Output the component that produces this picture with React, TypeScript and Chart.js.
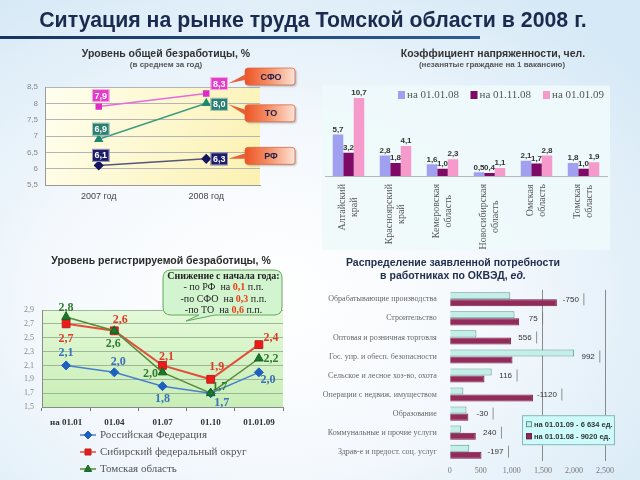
import React, { useEffect, useRef } from "react";
import { Chart, registerables } from "chart.js";

Chart.register(...registerables);

const SANS = "'Liberation Sans', Arial, sans-serif";
const SERIF = "'Liberation Serif', 'Times New Roman', serif";

// ---------- Chart 1: общая безработица ----------
const avgYears = ["2007 год", "2008 год"];
const avgYTicks = [5.5, 6, 6.5, 7, 7.5, 8, 8.5];
const avgSeries = ["СФО", "ТО", "РФ"];
const avgSFO = [7.9, 8.3];
const avgTO = [6.9, 8.0];
const avgRF = [6.1, 6.3];

// ---------- Chart 2: коэффициент напряженности ----------
const tensionRegions = [
  ["Алтайский", "край"],
  ["Красноярский", "край"],
  ["Кемеровская", "область"],
  ["Новосибирская", "область"],
  ["Омская", "область"],
  ["Томская", "область"],
];
const tensionDates = ["на 01.01.08", "на 01.11.08", "на 01.01.09"];
const tension0801 = [5.7, 2.8, 1.6, 0.5, 2.1, 1.8];
const tension0811 = [3.2, 1.8, 1.0, 0.4, 1.7, 1.0];
const tension0901 = [10.7, 4.1, 2.3, 1.1, 2.8, 1.9];

// ---------- Chart 3: регистрируемая безработица ----------
const regDates = ["на 01.01", "01.04", "01.07", "01.10", "01.01.09"];
const regYTicks = [1.5, 1.7, 1.9, 2.1, 2.3, 2.5, 2.7, 2.9];
const regSeries = ["Российская Федерация", "Сибирский федеральный округ", "Томская область"];
const regShort = ["РФ", "СФО", "ТО"];
const regRF = [2.1, 2.0, 1.8, 1.7, 2.0];
const regSFO = [2.7, 2.6, 2.1, 1.9, 2.4];
const regTO = [2.8, 2.6, 2.0, 1.7, 2.2];

// ---------- Chart 4: потребность по ОКВЭД ----------
const okvedSectors = [
  "Обрабатывающие производства",
  "Строительство",
  "Оптовая и розничная торговля",
  "Гос. упр. и обесп. безопасности",
  "Сельское и лесное хоз-во, охота",
  "Операции с недвиж. имуществом",
  "Образование",
  "Коммунальные и прочие услуги",
  "Здрав-е и предост. соц. услуг",
];
const okvedSeries = ["на 01.01.09 - 6 634 ед.", "на 01.01.08 - 9020 ед."];
const okved09 = [975, 1043, 430, 2003, 676, 220, 270, 180, 315];
const okved08 = [1725, 1118, 986, 1011, 560, 1340, 300, 420, 512];
const okvedDiff = ["-750", "75", "556", "992", "116", "-1120", "-30", "240", "-197"];
const okvedXTicks = [0, 500, 1000, 1500, 2000, 2500];

const fmt = (v: number) => String(v).replace(".", ",");
const fmt1 = (v: number) => v.toFixed(1).replace(".", ",");

// ---------- styles ----------
const avgStyle = {
  line: ["#e86ade", "#3f9c82", "#55557a"],
  point: ["#e02cc6", "#1e8a6c", "#15155e"],
  box: ["#e43cc8", "#2a7f70", "#1c1c6a"],
  shape: ["rect", "triangle", "rectRot"],
  offsets: [
    [[2, -11], [13, -10]],
    [[2, -10], [13, 1]],
    [[2, -10], [13, 0]],
  ],
  calloutDy: [-17, 10, -3],
};

const tensionColors = ["#a0a0f0", "#7e0a66", "#f59acb"];

const regStyle = {
  line: ["#4a7fd0", "#e0503a", "#5a8a3a"],
  point: ["#1f5fc0", "#ee1a1a", "#1a7a2a"],
  pointBorder: ["#1f5fc0", "#b82020", "#145e20"],
  label: ["#3a70b8", "#e03a2a", "#2e7d32"],
  shape: ["rectRot", "rect", "triangle"],
  radius: [4.5, 5.5, 5],
  offsets: [
    [[0, -13], [4, -10], [0, 13], [11, 10], [9, 8]],
    [[0, 15], [6, -11], [4, -9], [6, -12], [12, -7]],
    [[0, -9], [-1, 13], [-12, 2], [9, -6], [12, 0]],
  ],
};

function drawMarker(ctx: CanvasRenderingContext2D, shape: string, x: number, y: number, r: number, fill: string, stroke: string) {
  ctx.save();
  ctx.fillStyle = fill;
  ctx.strokeStyle = stroke;
  ctx.lineWidth = 1;
  ctx.beginPath();
  if (shape === "rect") {
    ctx.rect(x - r * 0.75, y - r * 0.75, r * 1.5, r * 1.5);
  } else if (shape === "triangle") {
    ctx.moveTo(x, y - r);
    ctx.lineTo(x + r * 0.9, y + r * 0.6);
    ctx.lineTo(x - r * 0.9, y + r * 0.6);
    ctx.closePath();
  } else {
    ctx.moveTo(x, y - r);
    ctx.lineTo(x + r, y);
    ctx.lineTo(x, y + r);
    ctx.lineTo(x - r, y);
    ctx.closePath();
  }
  ctx.fill();
  ctx.stroke();
  ctx.restore();
}

function makeAvg(canvas: HTMLCanvasElement) {
  const data = [avgSFO, avgTO, avgRF];
  return new Chart(canvas, {
    type: "line",
    data: {
      labels: avgYears,
      datasets: data.map((d, i) => ({
        label: avgSeries[i],
        data: d,
        borderColor: avgStyle.line[i],
        borderWidth: 1.5,
        pointStyle: avgStyle.shape[i] as any,
        pointRadius: i === 0 ? 3.5 : 4,
        pointBackgroundColor: avgStyle.point[i],
        pointBorderColor: avgStyle.point[i],
      })),
    },
    options: {
      responsive: false,
      animation: false,
      layout: { padding: { left: 0, right: 60, top: 47, bottom: 0 } },
      plugins: { legend: { display: false }, tooltip: { enabled: false } },
      scales: {
        x: {
          offset: true,
          grid: { display: false, drawTicks: false },
          border: { display: true, color: "#9a9a9a" },
          ticks: { font: { family: SANS, size: 9 }, color: "#444", padding: 6 },
          afterFit: (s: any) => { s.height = 25; },
        },
        y: {
          min: 5.5,
          max: 8.5,
          afterBuildTicks: (s: any) => { s.ticks = avgYTicks.map((v) => ({ value: v })); },
          ticks: { font: { family: SANS, size: 8 }, color: "#888", padding: 7, callback: (v: any) => fmt(Number(v)) },
          grid: { color: "#b4b4b4", drawTicks: false },
          border: { display: true, color: "#9a9a9a" },
          afterFit: (s: any) => { s.width = 45; },
        },
      },
    },
    plugins: [
      {
        id: "avgBg",
        beforeDraw(chart: any) {
          const { ctx, chartArea: a } = chart;
          const g = ctx.createLinearGradient(a.left, a.top, a.right, a.bottom);
          g.addColorStop(0, "#fffff0");
          g.addColorStop(1, "#fbf1b0");
          ctx.save();
          ctx.fillStyle = g;
          ctx.fillRect(a.left, a.top, a.right - a.left, a.bottom - a.top);
          ctx.restore();
        },
        afterDatasetsDraw(chart: any) {
          const { ctx, chartArea: a } = chart;
          ctx.save();
          chart.data.datasets.forEach((ds: any, di: number) => {
            const meta = chart.getDatasetMeta(di);
            meta.data.forEach((pt: any, i: number) => {
              const [dx, dy] = avgStyle.offsets[di][i];
              const cx = pt.x + dx, cy = pt.y + dy;
              const txt = fmt1(ds.data[i]);
              ctx.font = `bold 9px ${SANS}`;
              const w = ctx.measureText(txt).width + 5, h = 13;
              ctx.fillStyle = avgStyle.box[di];
              ctx.fillRect(cx - w / 2, cy - h / 2, w, h);
              ctx.strokeStyle = "rgba(255,255,255,0.55)";
              ctx.lineWidth = 1;
              ctx.strokeRect(cx - w / 2 + 0.5, cy - h / 2 + 0.5, w - 1, h - 1);
              ctx.fillStyle = "#ffffff";
              ctx.textAlign = "center";
              ctx.textBaseline = "middle";
              ctx.fillText(txt, cx, cy + 0.5);
            });
          });
          // callouts
          chart.data.datasets.forEach((ds: any, di: number) => {
            const meta = chart.getDatasetMeta(di);
            const last = meta.data[meta.data.length - 1];
            const [ldx, ldy] = avgStyle.offsets[di][meta.data.length - 1];
            const tipX = last.x + ldx + 9, tipY = last.y + ldy;
            const bw = 50, bh = 17;
            const bx = a.right - 15;
            const by = last.y + avgStyle.calloutDy[di] - bh / 2;
            ctx.fillStyle = "#e8603a";
            ctx.beginPath();
            ctx.moveTo(bx + 2, by + bh / 2 - 3);
            ctx.lineTo(tipX, tipY);
            ctx.lineTo(bx + 2, by + bh / 2 + 3);
            ctx.closePath();
            ctx.fill();
            ctx.shadowColor = "rgba(0,0,0,0.25)";
            ctx.shadowOffsetX = 1.5;
            ctx.shadowOffsetY = 1.5;
            ctx.shadowBlur = 2;
            const g = ctx.createLinearGradient(bx, 0, bx + bw, 0);
            g.addColorStop(0, "#ec5426");
            g.addColorStop(0.45, "#f58c62");
            g.addColorStop(1, "#fde3d6");
            ctx.fillStyle = g;
            ctx.beginPath();
            ctx.roundRect(bx, by, bw, bh, 3);
            ctx.fill();
            ctx.shadowColor = "transparent";
            ctx.strokeStyle = "#d8694a";
            ctx.lineWidth = 0.8;
            ctx.stroke();
            ctx.fillStyle = "#1c2050";
            ctx.font = `bold 9px ${SANS}`;
            ctx.textAlign = "center";
            ctx.textBaseline = "middle";
            ctx.fillText(ds.label, bx + bw / 2 + 1, by + bh / 2 + 0.5);
          });
          ctx.restore();
        },
      },
    ],
  } as any);
}

function makeTension(canvas: HTMLCanvasElement) {
  const data = [tension0801, tension0811, tension0901];
  return new Chart(canvas, {
    type: "bar",
    data: {
      labels: tensionRegions as any,
      datasets: data.map((d, i) => ({
        label: tensionDates[i],
        data: d,
        backgroundColor: tensionColors[i],
        borderWidth: 0,
        categoryPercentage: 0.67,
        barPercentage: 1,
      })),
    },
    options: {
      responsive: false,
      animation: false,
      layout: { padding: { left: 5, right: 33, top: 8.5, bottom: 0 } },
      plugins: { legend: { display: false }, tooltip: { enabled: false } },
      scales: {
        x: {
          grid: { display: false },
          border: { display: true, color: "#b8b8b8" },
          ticks: { display: false },
          afterFit: (s: any) => { s.height = 74; },
        },
        y: { display: false, min: 0, max: 12 },
      },
    },
    plugins: [
      {
        id: "tensionDecor",
        beforeDraw(chart: any) {
          const { ctx, chartArea: a } = chart;
          ctx.save();
          ctx.fillStyle = "rgba(238,250,251,0.9)";
          ctx.fillRect(a.left - 3, a.top - 3, a.right - a.left + 6, chart.height - a.top + 3);
          ctx.restore();
        },
        afterDatasetsDraw(chart: any) {
          const { ctx, chartArea: a } = chart;
          ctx.save();
          // value labels
          ctx.font = `bold 8px ${SANS}`;
          ctx.fillStyle = "#333";
          ctx.textAlign = "center";
          ctx.textBaseline = "bottom";
          chart.data.datasets.forEach((ds: any, di: number) => {
            chart.getDatasetMeta(di).data.forEach((bar: any, i: number) => {
              ctx.fillText(fmt1(ds.data[i]), bar.x, bar.y - 1);
            });
          });
          // legend
          ctx.font = `11px ${SERIF}`;
          ctx.textAlign = "left";
          ctx.textBaseline = "middle";
          let x = a.left + 73;
          const y = a.top + 6.5;
          chart.data.datasets.forEach((ds: any) => {
            ctx.fillStyle = ds.backgroundColor;
            ctx.fillRect(x, y - 4, 7, 8);
            ctx.fillStyle = "#555";
            ctx.fillText(ds.label, x + 9, y + 0.5);
            x += 72.5;
          });
          // x labels
          const xs = chart.scales.x;
          const top = a.bottom + 8;
          ctx.font = `10px ${SERIF}`;
          ctx.fillStyle = "#555";
          ctx.textAlign = "center";
          (chart.data.labels as string[][]).forEach((lines, i) => {
            const px = xs.getPixelForTick(i);
            const maxW = Math.max(...lines.map((l) => ctx.measureText(l).width));
            const cy = top + maxW / 2;
            lines.forEach((l, li) => {
              const lx = px + (li - (lines.length - 1) / 2) * 12;
              ctx.save();
              ctx.translate(lx, cy);
              ctx.rotate(-Math.PI / 2);
              ctx.fillText(l, 0, 0);
              ctx.restore();
            });
          });
          ctx.restore();
        },
      },
    ],
  } as any);
}

function makeReg(canvas: HTMLCanvasElement) {
  const data = [regRF, regSFO, regTO];
  return new Chart(canvas, {
    type: "line",
    data: {
      labels: regDates,
      datasets: data.map((d, i) => ({
        label: regSeries[i],
        data: d,
        order: 3 - i,
        borderColor: regStyle.line[i],
        borderWidth: i === 1 ? 2 : 1.5,
        pointStyle: regStyle.shape[i] as any,
        pointRadius: regStyle.radius[i],
        pointBackgroundColor: regStyle.point[i],
        pointBorderColor: regStyle.pointBorder[i],
        pointBorderWidth: 1,
      })),
    },
    options: {
      responsive: false,
      animation: false,
      layout: { padding: { left: 0, right: 37, top: 45, bottom: 0 } },
      plugins: { legend: { display: false }, tooltip: { enabled: false } },
      scales: {
        x: {
          offset: true,
          grid: { display: true, drawOnChartArea: false, offset: true, tickLength: 4, color: "#777" },
          border: { display: true, color: "#8a8a8a" },
          ticks: { font: { family: SERIF, size: 9, weight: "bold" }, color: "#333", padding: 6 },
          afterFit: (s: any) => { s.height = 73; },
        },
        y: {
          min: 1.5,
          max: 2.9,
          afterBuildTicks: (s: any) => { s.ticks = regYTicks.map((v) => ({ value: v })); },
          ticks: { font: { family: SERIF, size: 8 }, color: "#888", padding: 8, callback: (v: any) => fmt1(Number(v)) },
          grid: { color: "#9db897", drawTicks: false },
          border: { display: true, color: "#8a8a8a" },
          afterFit: (s: any) => { s.width = 42; },
        },
      },
    },
    plugins: [
      {
        id: "regDecor",
        beforeDraw(chart: any) {
          const { ctx, chartArea: a } = chart;
          const g = ctx.createLinearGradient(0, a.top, 0, a.bottom);
          g.addColorStop(0, "#e4f9d8");
          g.addColorStop(1, "#c8eeb6");
          ctx.save();
          ctx.fillStyle = g;
          ctx.fillRect(a.left, a.top, a.right - a.left, a.bottom - a.top);
          ctx.restore();
        },
        afterDatasetsDraw(chart: any) {
          const { ctx, chartArea: a } = chart;
          ctx.save();
          // point labels
          ctx.font = `bold 12px ${SERIF}`;
          ctx.textAlign = "center";
          ctx.textBaseline = "middle";
          chart.data.datasets.forEach((ds: any, di: number) => {
            ctx.fillStyle = regStyle.label[di];
            chart.getDatasetMeta(di).data.forEach((pt: any, i: number) => {
              const [dx, dy] = regStyle.offsets[di][i];
              ctx.fillText(fmt1(ds.data[i]), pt.x + dx, pt.y + dy);
            });
          });
          // legend
          ctx.font = `11px ${SERIF}`;
          ctx.textAlign = "left";
          chart.data.datasets.forEach((ds: any, di: number) => {
            const y = a.bottom + 28 + di * 17;
            const mx = 88;
            ctx.strokeStyle = regStyle.line[di];
            ctx.lineWidth = 1.5;
            ctx.beginPath();
            ctx.moveTo(mx - 8, y);
            ctx.lineTo(mx + 8, y);
            ctx.stroke();
            drawMarker(ctx, regStyle.shape[di], mx, y, 4, regStyle.point[di], regStyle.pointBorder[di]);
            ctx.fillStyle = "#555";
            ctx.fillText(ds.label, 100, y + 0.5);
          });
          // callout bubble
          const bx = 163, by = 5, bw = 119, bh = 45;
          ctx.fillStyle = "#d2f5cf";
          ctx.strokeStyle = "#62a85e";
          ctx.lineWidth = 1;
          ctx.beginPath();
          ctx.moveTo(bx + 8, by);
          ctx.lineTo(bx + bw - 8, by);
          ctx.quadraticCurveTo(bx + bw, by, bx + bw, by + 8);
          ctx.lineTo(bx + bw, by + bh - 8);
          ctx.quadraticCurveTo(bx + bw, by + bh, bx + bw - 8, by + bh);
          ctx.lineTo(bx + 52, by + bh);
          ctx.lineTo(bx + 23, by + bh + 6);
          ctx.lineTo(bx + 36, by + bh);
          ctx.lineTo(bx + 8, by + bh);
          ctx.quadraticCurveTo(bx, by + bh, bx, by + bh - 8);
          ctx.lineTo(bx, by + 8);
          ctx.quadraticCurveTo(bx, by, bx + 8, by);
          ctx.closePath();
          ctx.fill();
          ctx.stroke();
          const cx = bx + bw / 2 + 1;
          ctx.textBaseline = "middle";
          ctx.textAlign = "left";
          ctx.font = `bold 10px ${SERIF}`;
          const head = "Снижение с начала года:";
          ctx.fillStyle = "#222";
          ctx.fillText(head, cx - ctx.measureText(head).width / 2, by + 6);
          const prefixes = ["- по ", "-по ", "-по "];
          chart.data.datasets.forEach((ds: any, di: number) => {
            const d = ds.data as number[];
            const drop = fmt1(d[0] - d[d.length - 1]);
            const runs: [string, boolean][] = [
              [`${prefixes[di]}${regShort[di]}  на `, false],
              [drop, true],
              [" п.п.", false],
            ];
            const widths = runs.map(([t, b]) => {
              ctx.font = `${b ? "bold " : ""}10px ${SERIF}`;
              return ctx.measureText(t).width;
            });
            let x = cx - widths.reduce((s, w) => s + w, 0) / 2;
            const y = by + 17.5 + di * 11.5;
            runs.forEach(([t, b], k) => {
              ctx.font = `${b ? "bold " : ""}10px ${SERIF}`;
              ctx.fillStyle = b ? "#f03c14" : "#222";
              ctx.fillText(t, x, y);
              x += widths[k];
            });
          });
          ctx.restore();
        },
      },
    ],
  } as any);
}

function makeOkved(canvas: HTMLCanvasElement) {
  return new Chart(canvas, {
    type: "bar",
    data: {
      labels: okvedSectors,
      datasets: [
        {
          label: okvedSeries[0],
          data: okved09,
          backgroundColor: "#c4efe8",
          borderColor: "#5e9a96",
          borderWidth: 1,
          categoryPercentage: 0.74,
          barPercentage: 1,
        },
        {
          label: okvedSeries[1],
          data: okved08,
          backgroundColor: "#922a5a",
          borderColor: "#741c46",
          borderWidth: 1,
          categoryPercentage: 0.74,
          barPercentage: 1,
        },
      ],
    },
    options: {
      indexAxis: "y",
      responsive: false,
      animation: false,
      layout: { padding: { left: 0, right: 35, top: 6.3, bottom: 0 } },
      plugins: { legend: { display: false }, tooltip: { enabled: false } },
      scales: {
        x: {
          min: 0,
          max: 2500,
          afterBuildTicks: (s: any) => { s.ticks = okvedXTicks.map((v) => ({ value: v })); },
          grid: {
            drawTicks: false,
            color: (c: any) => (c.tick && (c.tick.value === 1500 || c.tick.value === 2500) ? "#8a8a8a" : "rgba(0,0,0,0)"),
          },
          border: { display: false },
          ticks: { font: { family: SERIF, size: 8 }, color: "#777", padding: 5 },
          afterFit: (s: any) => { s.height = 18.8; },
        },
        y: {
          grid: { display: false },
          border: { display: false },
          ticks: { font: { family: SERIF, size: 8 }, color: "#666", padding: 5, autoSkip: false },
          afterFit: (s: any) => { s.width = 129.7; },
        },
      },
    },
    plugins: [
      {
        id: "okvedDecor",
        afterDatasetsDraw(chart: any) {
          const { ctx, chartArea: a } = chart;
          const xs = chart.scales.x, ys = chart.scales.y;
          ctx.save();
          ctx.font = `8px ${SANS}`;
          ctx.textAlign = "center";
          ctx.textBaseline = "middle";
          okvedDiff.forEach((t, i) => {
            const x = xs.getPixelForValue(Math.max(okved09[i], okved08[i])) + 14;
            const y = ys.getPixelForValue(i);
            ctx.fillStyle = "#333";
            ctx.fillText(t, x, y);
            const w = ctx.measureText(t).width;
            ctx.strokeStyle = "#777";
            ctx.lineWidth = 0.8;
            ctx.beginPath();
            ctx.moveTo(x + w / 2 + 5, y - 6);
            ctx.lineTo(x + w / 2 + 5, y + 6);
            ctx.stroke();
          });
          // legend box
          const bx = a.right - 83, by = a.bottom - 46, bw = 93, bh = 30;
          ctx.fillStyle = "#cdfbfb";
          ctx.strokeStyle = "#8cb4b4";
          ctx.lineWidth = 1;
          ctx.fillRect(bx, by, bw, bh);
          ctx.strokeRect(bx + 0.5, by + 0.5, bw - 1, bh - 1);
          ctx.font = `bold 7.5px ${SANS}`;
          ctx.textAlign = "left";
          chart.data.datasets.forEach((ds: any, di: number) => {
            const y = by + 9 + di * 12;
            ctx.fillStyle = ds.backgroundColor;
            ctx.strokeStyle = ds.borderColor;
            ctx.fillRect(bx + 4, y - 3, 6, 6);
            ctx.strokeRect(bx + 4.5, y - 2.5, 5, 5);
            ctx.fillStyle = "#333";
            ctx.fillText(ds.label, bx + 12, y + 0.5);
          });
          ctx.restore();
        },
      },
    ],
  } as any);
}

function Txt(props: { cx: number; cy: number; size: number; color: string; bold?: boolean; children: React.ReactNode }) {
  const { cx, cy, size, color, bold = true, children } = props;
  return (
    <div
      style={{
        position: "absolute",
        left: cx - 320,
        width: 640,
        top: cy - size * 0.6,
        lineHeight: `${size * 1.2}px`,
        fontSize: size,
        fontWeight: bold ? "bold" : "normal",
        color,
        textAlign: "center",
        whiteSpace: "nowrap",
        fontFamily: SANS,
      }}
    >
      {children}
    </div>
  );
}

export default function App() {
  const r1 = useRef<HTMLCanvasElement>(null);
  const r2 = useRef<HTMLCanvasElement>(null);
  const r3 = useRef<HTMLCanvasElement>(null);
  const r4 = useRef<HTMLCanvasElement>(null);

  useEffect(() => {
    const charts = [
      makeAvg(r1.current as HTMLCanvasElement),
      makeTension(r2.current as HTMLCanvasElement),
      makeReg(r3.current as HTMLCanvasElement),
      makeOkved(r4.current as HTMLCanvasElement),
    ];
    return () => charts.forEach((c) => c.destroy());
  }, []);

  return (
    <div
      style={{
        position: "fixed",
        left: 0,
        top: 0,
        width: 640,
        height: 480,
        overflow: "hidden",
        background:
          "radial-gradient(ellipse 75% 75% at 42% 62%, #ffffff 0%, #f5f9fd 45%, #d6e9f6 100%)",
      }}
    >
      <canvas ref={r1} width={320} height={170} style={{ position: "absolute", left: 0, top: 40 }} />
      <canvas ref={r2} width={320} height={170} style={{ position: "absolute", left: 320, top: 80 }} />
      <canvas ref={r3} width={320} height={215} style={{ position: "absolute", left: 0, top: 265 }} />
      <canvas ref={r4} width={320} height={200} style={{ position: "absolute", left: 320, top: 280 }} />

      <Txt cx={313} cy={21} size={21.3} color="#1b2a4f">Ситуация на рынке труда Томской области в 2008 г.</Txt>
      <div
        style={{
          position: "absolute",
          left: 0,
          top: 36,
          width: 480,
          height: 3,
          background: "linear-gradient(90deg, #16355e, #2e5c94)",
        }}
      />
      <Txt cx={166} cy={53} size={10.5} color="#333">Уровень общей безработицы, %</Txt>
      <Txt cx={166} cy={65} size={8} color="#555">(в среднем за год)</Txt>
      <Txt cx={493} cy={53} size={10.5} color="#333">Коэффициент напряженности, чел.</Txt>
      <Txt cx={492} cy={65} size={8} color="#555">(незанятые граждане на 1 вакансию)</Txt>
      <Txt cx={161} cy={260} size={10.5} color="#2b2b2b">Уровень регистрируемой безработицы, %</Txt>
      <Txt cx={453} cy={262} size={10.5} color="#23304f">Распределение заявленной потребности</Txt>
      <Txt cx={453} cy={275} size={10.5} color="#23304f">
        в работниках по ОКВЭД, <i>ед.</i>
      </Txt>
    </div>
  );
}
